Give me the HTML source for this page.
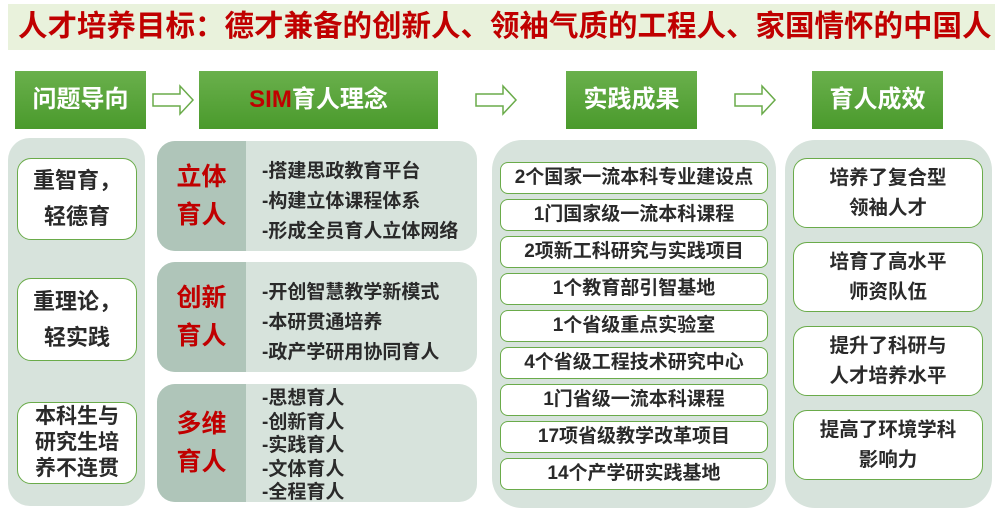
<!DOCTYPE html>
<html><head><meta charset="utf-8"><style>
*{margin:0;padding:0;box-sizing:border-box}
body{width:1000px;height:517px;background:#fff;position:relative;overflow:hidden;font-family:"Liberation Sans","Noto Sans CJK SC",sans-serif;font-weight:bold}
.a{position:absolute}
.title{left:8px;top:4px;width:987px;height:46px;background:#e9f2dc;color:#c00000;font-size:29.5px;line-height:46px;padding-left:10px;white-space:nowrap}
.hd{top:71px;height:58px;background:linear-gradient(#6ab04c,#4a9a2c);color:#fff;font-size:24px;text-align:center;line-height:58px}
.panel{background:#d7e3dc;border-radius:22px}
.wb{background:#fff;border:1.5px solid #6aab4a;border-radius:14px;color:#2a2a2a;text-align:center;display:flex;align-items:center;justify-content:center}
.dk{background:#afc5b9;border-radius:18px 0 0 18px;color:#c00000;font-size:25px;line-height:38px;text-align:center;display:flex;align-items:center;justify-content:center}
.lst{color:#2a2a2a;font-size:19px}
.it{left:500px;width:268px;height:32px;font-size:19px;line-height:30px;border-radius:8px;white-space:nowrap}
</style></head><body>
<div class="a title">人才培养目标：德才兼备的创新人、领袖气质的工程人、家国情怀的中国人</div>

<div class="a hd" style="left:15px;width:131px">问题导向</div>
<div class="a hd" style="left:199px;width:239px"><span style="color:#c00000">SIM</span>育人理念</div>
<div class="a hd" style="left:566px;width:131px">实践成果</div>
<div class="a hd" style="left:812px;width:131px">育人成效</div>

<svg class="a" style="left:0;top:0" width="1000" height="140">
<g fill="#fff" stroke="#6aab4a" stroke-width="1.5">
<path d="M153 94 H180 V86 L193 100 L180 114 V106 H153 Z"/>
<path d="M476 94 H503 V86 L516 100 L503 114 V106 H476 Z"/>
<path d="M735 94 H762 V86 L775 100 L762 114 V106 H735 Z"/>
</g></svg>

<div class="a panel" style="left:8px;top:138px;width:137px;height:368px"></div>
<div class="a wb" style="left:17px;top:158px;width:120px;height:82px;font-size:22px;line-height:36px">重智育，<br>轻德育</div>
<div class="a wb" style="left:17px;top:278px;width:120px;height:83px;font-size:22px;line-height:36px">重理论，<br>轻实践</div>
<div class="a wb" style="left:17px;top:402px;width:120px;height:82px;font-size:21px;line-height:26px">本科生与<br>研究生培<br>养不连贯</div>

<div class="a panel" style="left:157px;top:141px;width:320px;height:110px;border-radius:18px"></div>
<div class="a dk" style="left:157px;top:141px;width:89px;height:110px">立体<br>育人</div>
<div class="a lst" style="left:262px;top:157px;line-height:30px">-搭建思政教育平台<br>-构建立体课程体系<br>-形成全员育人立体网络</div>

<div class="a panel" style="left:157px;top:262px;width:320px;height:110px;border-radius:18px"></div>
<div class="a dk" style="left:157px;top:262px;width:89px;height:110px">创新<br>育人</div>
<div class="a lst" style="left:262px;top:278px;line-height:30px">-开创智慧教学新模式<br>-本研贯通培养<br>-政产学研用协同育人</div>

<div class="a panel" style="left:157px;top:384px;width:320px;height:118px;border-radius:18px"></div>
<div class="a dk" style="left:157px;top:384px;width:89px;height:118px">多维<br>育人</div>
<div class="a lst" style="left:262px;top:387px;line-height:23.5px">-思想育人<br>-创新育人<br>-实践育人<br>-文体育人<br>-全程育人</div>

<div class="a panel" style="left:492px;top:140px;width:284px;height:368px;border-radius:30px"></div>
<div class="a wb it" style="top:162px">2个国家一流本科专业建设点</div>
<div class="a wb it" style="top:199px">1门国家级一流本科课程</div>
<div class="a wb it" style="top:236px">2项新工科研究与实践项目</div>
<div class="a wb it" style="top:273px">1个教育部引智基地</div>
<div class="a wb it" style="top:310px">1个省级重点实验室</div>
<div class="a wb it" style="top:347px">4个省级工程技术研究中心</div>
<div class="a wb it" style="top:384px">1门省级一流本科课程</div>
<div class="a wb it" style="top:421px">17项省级教学改革项目</div>
<div class="a wb it" style="top:458px">14个产学研实践基地</div>

<div class="a panel" style="left:785px;top:140px;width:207px;height:368px;border-radius:30px"></div>
<div class="a wb" style="left:793px;top:158px;width:190px;height:70px;font-size:19.5px;line-height:30px">培养了复合型<br>领袖人才</div>
<div class="a wb" style="left:793px;top:242px;width:190px;height:70px;font-size:19.5px;line-height:30px">培育了高水平<br>师资队伍</div>
<div class="a wb" style="left:793px;top:326px;width:190px;height:70px;font-size:19.5px;line-height:30px">提升了科研与<br>人才培养水平</div>
<div class="a wb" style="left:793px;top:410px;width:190px;height:70px;font-size:19.5px;line-height:30px">提高了环境学科<br>影响力</div>
</body></html>
